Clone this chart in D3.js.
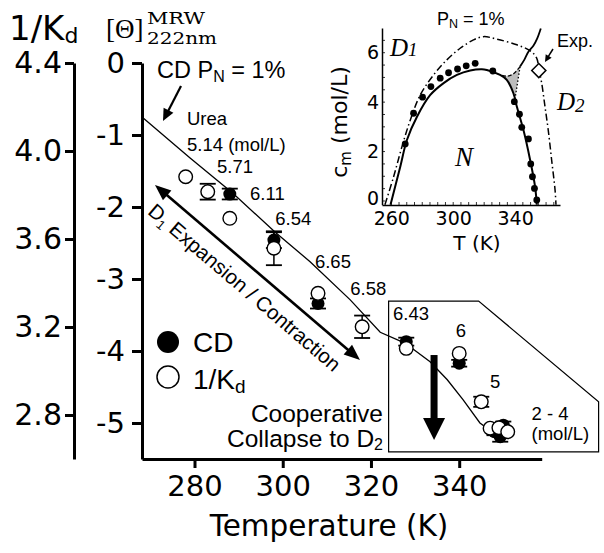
<!DOCTYPE html>
<html><head><meta charset="utf-8">
<script src="https://cdn.jsdelivr.net/npm/d3@7"></script>
<style>body{margin:0;background:#fff} svg{display:block}</style>
</head><body>
<svg id="c" width="604" height="553"></svg>
<script>
// ---------------- data ----------------
const xTicks = [280, 300, 320, 340];
const cdTicks = [0, -1, -2, -3, -4, -5];
const kdTicks = [4.4, 4.0, 3.6, 3.2, 2.8];

// 1/Kd (open circles)
const kdTemps  = [278, 283, 288, 298, 308, 318, 328, 340, 345, 347, 349, 351];
const kdValues = [3.883, 3.815, 3.694, 3.558, 3.353, 3.201, 3.103, 3.080, 2.860, 2.740, 2.742, 2.724];
const kdErrors = [0, 0.036, 0, 0.077, 0, 0.051, 0, 0, 0.023, 0, 0, 0];

// CD (filled circles)
const cdTemps  = [288, 298, 308, 328, 340, 348, 350, 349.3];
const cdValues = [-1.82, -2.46, -3.34, -3.87, -4.17, -5.12, -5.03, -5.19];
const cdErrors = [0.075, 0.11, 0.07, 0.055, 0.047, 0.05, 0.05, 0.07];

// simulated CD curve P_N = 1%
const lineTemps  = [268.1, 279.0, 288.7, 298.3, 306.2, 315.3, 322.1, 327.7, 333.4, 337.3, 340.9, 344.7, 346.3, 349.3, 352.5];
const lineValues = [-0.75, -1.32, -1.81, -2.35, -2.76, -3.29, -3.74, -3.89, -4.15, -4.40, -4.68, -5.0, -5.07, -5.10, -5.13];

// urea concentration labels
const ureaLabels = ["Urea", "5.14 (mol/L)", "5.71", "6.11", "6.54", "6.65", "6.58", "6.43", "6", "5", "2 - 4", "(mol/L)"];
const ureaLabelT = [278.3, 278.3, 285.1, 292.6, 298.3, 307.3, 315.3, 325.0, 339.2, 347.0, 356.4, 356.4];
const ureaLabelV = [-0.861, -1.222, -1.528, -1.903, -2.25, -2.851, -3.222, -3.569, -3.801, -4.514, -4.958, -5.236];

// inset: phase diagram
const insetXTicks = [260, 300, 340];
const insetYTicks = [0, 2, 4, 6];
const simTemps = [269, 274.4, 280.2, 285.6, 291.6, 297, 302.8, 308.4, 314.2, 325.6, 339.5, 342.8, 344.3, 348.6, 350.1, 351.2, 352.5, 354];
const simCm    = [2.31, 3.55, 4.20, 4.63, 4.97, 5.19, 5.34, 5.47, 5.57, 5.26, 4.02, 3.51, 2.98, 2.51, 1.50, 0.98, 0.51, 0.04];
const nBoundT  = [259.5, 265.8, 270.1, 276.6, 285.2, 293.8, 302.4, 311, 318.5, 321.7, 330.3, 334.6, 338.9, 341.1, 345.4, 349.7, 352.9, 354];
const nBoundCm = [-0.15, 1.39, 2.47, 3.41, 4.29, 4.77, 5.10, 5.28, 5.33, 5.30, 5.10, 4.90, 4.36, 3.82, 2.87, 1.66, 0.58, -0.15];
const outerT   = [255.9, 261.5, 266.9, 272.3, 278.7, 287.3, 295.9, 304.5, 313.1, 319.5, 328.2, 341.1, 349.7, 353.8, 355.5, 357.2, 359.3, 361.4, 363.6, 365.8, 366.4];
const outerCm  = [-0.15, 0.98, 2.2, 3.28, 4.29, 5.1, 5.71, 6.18, 6.52, 6.65, 6.55, 6.32, 6.08, 5.8, 5.3, 4.76, 3.82, 2.87, 1.66, 0.45, -0.15];
const upperT   = [343.2, 346, 348.6, 351.8, 354.3, 356.6];
const upperCm  = [5.44, 5.72, 6.04, 6.28, 6.58, 6.98];
const grayTopT  = [343.2, 339, 335, 330.3];
const grayTopCm = [5.44, 5.15, 5.05, 5.10];
const grayRightT  = [343.2, 339.9];
const grayRightCm = [5.44, 4.12];
const expT = [355.3], expCm = [5.28];

// ---------------- drawing ----------------
const svg = d3.select("#c");
svg.append("rect").attr("width", 604).attr("height", 553).attr("fill", "#fff");
const SANS = "'Liberation Sans', Arial, sans-serif";
const DEJ = "'DejaVu Sans', Verdana, sans-serif";

const x = d3.scaleLinear().domain([268.1, 358.7]).range([142, 541.7]);
const yCD = d3.scaleLinear().domain([-5.5, 0]).range([459, 63]);
const yKd = d3.scaleLinear().domain([2.6, 4.4]).range([459, 63]);

function styleAxis(g, fs, sw) {
  g.selectAll("path").attr("stroke", "#000").attr("stroke-width", sw);
  g.selectAll("line").attr("stroke", "#000").attr("stroke-width", sw);
  g.selectAll("text").attr("font-family", DEJ).attr("font-size", fs).attr("fill", "#000");
}

// axes
const gKd = svg.append("g").attr("transform", "translate(74,0)")
  .call(d3.axisLeft(yKd).tickValues(kdTicks).tickFormat(d3.format(".1f")).tickSize(9).tickSizeOuter(0).tickPadding(3));
styleAxis(gKd, 30, 3);
const gCD = svg.append("g").attr("transform", "translate(142,0)")
  .call(d3.axisLeft(yCD).tickValues(cdTicks).tickFormat(d => String(d)).tickSize(10).tickSizeOuter(0).tickPadding(7));
styleAxis(gCD, 29, 3);
const gX = svg.append("g").attr("transform", "translate(0,459)")
  .call(d3.axisBottom(x).tickValues(xTicks).tickFormat(d3.format("d")).tickSize(9).tickSizeOuter(0).tickPadding(7));
styleAxis(gX, 29, 3);

svg.append("text").attr("x", 329).attr("y", 536).attr("text-anchor", "middle")
  .attr("font-family", DEJ).attr("font-size", 29.5).text("Temperature (K)");

// titles
const t1 = svg.append("text").attr("x", 9).attr("y", 40).attr("font-family", DEJ).attr("font-size", 34);
t1.append("tspan").text("1/K");
t1.append("tspan").attr("font-size", 22).attr("dy", 3).text("d");
const SERIF = "'DejaVu Serif', 'Liberation Serif', serif";
svg.append("text").attr("x", 106).attr("y", 38).attr("font-family", "'Liberation Serif', serif").attr("font-size", 27).text("[\u0398]");
svg.append("text").attr("x", 147).attr("y", 24).attr("font-family", SERIF).attr("font-size", 16)
  .attr("textLength", 58).attr("lengthAdjust", "spacingAndGlyphs").text("MRW");
svg.append("text").attr("x", 147).attr("y", 44).attr("font-family", SERIF).attr("font-size", 16)
  .attr("textLength", 70).attr("lengthAdjust", "spacingAndGlyphs").text("222nm");

// arrow helper
function arrow(x1, y1, x2, y2, hl, hw, sw, both) {
  const dx = x2 - x1, dy = y2 - y1, L = Math.hypot(dx, dy), ux = dx / L, uy = dy / L, nx = -uy, ny = ux;
  const sx = both ? x1 + ux * hl * 0.8 : x1, sy = both ? y1 + uy * hl * 0.8 : y1;
  svg.append("line").attr("x1", sx).attr("y1", sy).attr("x2", x2 - ux * hl * 0.8).attr("y2", y2 - uy * hl * 0.8)
    .attr("stroke", "#000").attr("stroke-width", sw);
  const head = (px, py, vx, vy) => {
    const bx = px - vx * hl, by = py - vy * hl;
    svg.append("polygon").attr("points", `${px},${py} ${bx + nx * hw / 2},${by + ny * hw / 2} ${bx - nx * hw / 2},${by - ny * hw / 2}`).attr("fill", "#000");
  };
  head(x2, y2, ux, uy);
  if (both) head(x1, y1, -ux, -uy);
}

// simulated line
const lineGen = d3.line().x(d => x(d[0])).y(d => yCD(d[1]));
svg.append("path").datum(d3.zip(lineTemps, lineValues)).attr("d", lineGen)
  .attr("fill", "none").attr("stroke", "#000").attr("stroke-width", 1.3);

// annotation box
const boxPts = [[324, -3.306], [344.4, -3.306], [371.6, -4.704], [371.6, -5.40], [324, -5.40]];
svg.append("polygon").attr("points", boxPts.map(p => [x(p[0]), yCD(p[1])].join(",")).join(" "))
  .attr("fill", "none").attr("stroke", "#000").attr("stroke-width", 1.2);

// big arrow
const ax = x(334.3), ay1 = yCD(-4.056), ay2 = yCD(-5.236);
svg.append("rect").attr("x", ax - 3.5).attr("y", ay1).attr("width", 7).attr("height", (ay2 - ay1) - 21);
svg.append("polygon").attr("points", `${ax - 11},${ay2 - 22} ${ax + 11},${ay2 - 22} ${ax},${ay2}`).attr("fill", "#000");

// error bars
function errBars(T, V, E, sc) {
  T.forEach((t, i) => {
    if (!E[i]) return;
    const cx = x(t), ya = sc(V[i] + E[i]), yb = sc(V[i] - E[i]);
    svg.append("line").attr("x1", cx).attr("x2", cx).attr("y1", ya).attr("y2", yb).attr("stroke", "#000").attr("stroke-width", 1.5);
    [ya, yb].forEach(yy => svg.append("line").attr("x1", cx - 8).attr("x2", cx + 8).attr("y1", yy).attr("y2", yy).attr("stroke", "#000").attr("stroke-width", 1.8));
  });
}
errBars(cdTemps, cdValues, cdErrors, yCD);
errBars(kdTemps, kdValues, kdErrors, yKd);

svg.append("g").selectAll("circle").data(d3.zip(cdTemps, cdValues)).join("circle")
  .attr("cx", d => x(d[0])).attr("cy", d => yCD(d[1])).attr("r", 6.5).attr("fill", "#000");
svg.append("g").selectAll("circle").data(d3.zip(kdTemps, kdValues)).join("circle")
  .attr("cx", d => x(d[0])).attr("cy", d => yKd(d[1])).attr("r", 6.8).attr("fill", "#fff").attr("stroke", "#000").attr("stroke-width", 1.4);

// urea labels
svg.append("g").selectAll("text").data(d3.zip(ureaLabels, ureaLabelT, ureaLabelV)).join("text")
  .attr("x", d => x(d[1])).attr("y", d => yCD(d[2])).attr("font-family", SANS).attr("font-size", 18.5).text(d => d[0]);

// CD PN = 1%
const t2 = svg.append("text").attr("x", 157).attr("y", 78).attr("font-family", SANS).attr("font-size", 23.5);
t2.append("tspan").text("CD P");
t2.append("tspan").attr("font-size", 16).attr("dy", 4).text("N");
t2.append("tspan").attr("dy", -4).text(" = 1%");
arrow(181, 86, 163, 121, 12, 11, 2.2, false);

// D1 expansion / contraction arrow
arrow(155, 185, 360, 360, 16, 13, 2.6, true);
const ang = Math.atan2(175, 205) * 180 / Math.PI;
const t3 = svg.append("text").attr("text-anchor", "middle").attr("font-family", SANS).attr("font-size", 20.5)
  .attr("transform", `translate(${257.5 - 0.649 * 27},${272.5 + 0.760 * 27}) rotate(${ang})`);
t3.append("tspan").text("D");
t3.append("tspan").attr("font-size", 13).attr("dy", 4).text("1");
t3.append("tspan").attr("dy", -4).text(" Expansion / Contraction");

// legend
svg.append("circle").attr("cx", 168).attr("cy", 342).attr("r", 11).attr("fill", "#000");
svg.append("circle").attr("cx", 168).attr("cy", 377).attr("r", 11).attr("fill", "#fff").attr("stroke", "#000").attr("stroke-width", 1.5);
svg.append("text").attr("x", 193).attr("y", 352).attr("font-family", SANS).attr("font-size", 28).text("CD");
const t4 = svg.append("text").attr("x", 193).attr("y", 389).attr("font-family", SANS).attr("font-size", 28);
t4.append("tspan").text("1/K");
t4.append("tspan").attr("font-size", 19).attr("dy", 4).text("d");

// cooperative collapse
svg.append("text").attr("x", 383).attr("y", 421.5).attr("text-anchor", "end").attr("font-family", SANS).attr("font-size", 24.5).text("Cooperative");
const t5 = svg.append("text").attr("x", 383).attr("y", 446.5).attr("text-anchor", "end").attr("font-family", SANS).attr("font-size", 24.5);
t5.append("tspan").text("Collapse to D");
t5.append("tspan").attr("font-size", 16).attr("dy", 3).text("2");

// ---------------- inset ----------------
const ix = d3.scaleLinear().domain([254, 369]).range([382, 560]);
const iy = d3.scaleLinear().domain([-0.15, 7]).range([204.7, 28]);
const gi = svg.append("g");
gi.append("clipPath").attr("id", "ic").append("rect").attr("x", 382).attr("y", 28).attr("width", 178).attr("height", 177);
const curve = d3.line().x(d => ix(d[0])).y(d => iy(d[1])).curve(d3.curveCatmullRom.alpha(0.5));
const gc = gi.append("g").attr("clip-path", "url(#ic)");
// gray region
const grayPts = [[330.3, 5.10], [334.6, 4.90], [338.9, 4.36], [339.9, 4.12]].concat(d3.zip(grayRightT, grayRightCm).reverse().slice(1), d3.zip(grayTopT, grayTopCm).slice(1));
gc.append("path").datum(grayPts).attr("d", d3.line().x(d => ix(d[0])).y(d => iy(d[1])).curve(d3.curveLinearClosed))
  .attr("fill", "#bdbdbd").attr("stroke", "none");
gc.append("path").datum(d3.zip(grayTopT, grayTopCm)).attr("d", curve).attr("fill", "none").attr("stroke", "#000").attr("stroke-width", 1.3).attr("stroke-dasharray", "4,2");
gc.append("path").datum(d3.zip(grayRightT, grayRightCm)).attr("d", curve).attr("fill", "none").attr("stroke", "#000").attr("stroke-width", 1.3).attr("stroke-dasharray", "1.5,2");
gc.append("path").datum(d3.zip(outerT, outerCm)).attr("d", curve).attr("fill", "none").attr("stroke", "#000").attr("stroke-width", 1.5).attr("stroke-dasharray", "7,3,1.5,3");
gc.append("path").datum(d3.zip(nBoundT, nBoundCm)).attr("d", curve).attr("fill", "none").attr("stroke", "#000").attr("stroke-width", 2);
gc.append("path").datum(d3.zip(upperT, upperCm)).attr("d", curve).attr("fill", "none").attr("stroke", "#000").attr("stroke-width", 1.8);
gi.append("g").selectAll("circle").data(d3.zip(simTemps, simCm)).join("circle")
  .attr("cx", d => ix(d[0])).attr("cy", d => iy(d[1])).attr("r", 3.4).attr("fill", "#000");
// diamond
gi.append("g").selectAll("rect").data(d3.zip(expT, expCm)).join("rect")
  .attr("x", -5).attr("y", -5).attr("width", 10).attr("height", 10)
  .attr("transform", d => `translate(${ix(d[0])},${iy(d[1])}) rotate(45)`)
  .attr("fill", "#fff").attr("stroke", "#000").attr("stroke-width", 1.5);

// inset axes
const giy = gi.append("g").attr("transform", "translate(382,0)")
  .call(d3.axisLeft(iy).tickValues(insetYTicks).tickSize(0).tickSizeOuter(0).tickPadding(3));
styleAxis(giy, 19, 1.5);
giy.selectAll(".tick").filter(d => d === 0).select("text").attr("dy", "0.2em");
const gix = gi.append("g").attr("transform", "translate(0,205)")
  .call(d3.axisBottom(ix).tickValues(insetXTicks).tickSize(0).tickSizeOuter(0).tickPadding(7));
styleAxis(gix, 19, 1.5);
gi.append("g").selectAll("line").data(d3.range(0, 7, 0.5)).join("line")
  .attr("x1", 382).attr("x2", 385).attr("y1", d => iy(d)).attr("y2", d => iy(d)).attr("stroke", "#000").attr("stroke-width", 0.8);
gi.append("g").selectAll("line").data(d3.range(260, 369, 5)).join("line")
  .attr("y1", 205).attr("y2", 202).attr("x1", d => ix(d)).attr("x2", d => ix(d)).attr("stroke", "#000").attr("stroke-width", 0.8);

// inset labels
const t6 = gi.append("text").attr("x", 437).attr("y", 25).attr("font-family", SANS).attr("font-size", 18);
t6.append("tspan").text("P");
t6.append("tspan").attr("font-size", 12.5).attr("dy", 3).text("N");
t6.append("tspan").attr("dy", -3).text(" = 1%");
const SER = "'Liberation Serif', 'DejaVu Serif', serif";
const t7 = gi.append("text").attr("x", 390).attr("y", 56).attr("font-family", SER).attr("font-style", "italic").attr("font-size", 25);
t7.append("tspan").text("D");
t7.append("tspan").attr("font-size", 19).text("1");
const t8 = gi.append("text").attr("x", 557).attr("y", 110).attr("font-family", SER).attr("font-style", "italic").attr("font-size", 25);
t8.append("tspan").text("D");
t8.append("tspan").attr("font-size", 19).attr("dy", 2).text("2");
gi.append("text").attr("x", 455).attr("y", 166).attr("font-family", SER).attr("font-style", "italic").attr("font-size", 27).text("N");
gi.append("text").attr("x", 557).attr("y", 47).attr("font-family", SANS).attr("font-size", 18).text("Exp.");
arrow(553, 49, 545, 62, 7, 7, 1.5, false);
gi.append("text").attr("x", 477).attr("y", 250).attr("text-anchor", "middle").attr("font-family", DEJ).attr("font-size", 20).text("T (K)");
const t9 = gi.append("text").attr("text-anchor", "middle").attr("font-family", DEJ).attr("font-size", 22)
  .attr("transform", "translate(347,122) rotate(-90)");
t9.append("tspan").text("c");
t9.append("tspan").attr("font-size", 15).attr("dy", 4).text("m");
t9.append("tspan").attr("dy", -4).text(" (mol/L)");
</script>
</body></html>
